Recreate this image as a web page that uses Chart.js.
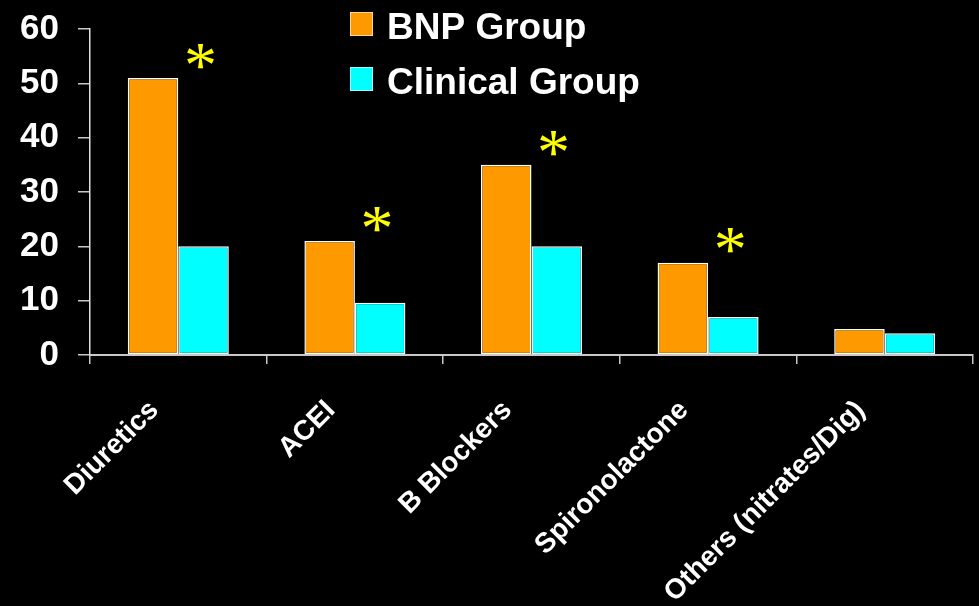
<!DOCTYPE html>
<html>
<head>
<meta charset="utf-8">
<script src="https://cdn.jsdelivr.net/npm/chart.js@4.4.1/dist/chart.umd.min.js"></script>
<style>
  html, body { margin: 0; padding: 0; background: #000; overflow: hidden; }
  canvas { display: block; }
</style>
</head>
<body>
<canvas id="c" width="979" height="606"></canvas>
<script>
// ---- data ----
const categories = ['Diuretics', 'ACEI', 'B Blockers', 'Spironolactone', 'Others (nitrates/Dig)'];
const bnpGroup = [51, 21, 35, 17, 4.8];
const clinicalGroup = [20, 9.6, 20, 7, 4];
const significant = [true, true, true, true, false];
const seriesLabels = ['BNP Group', 'Clinical Group'];
const yMin = 0, yMax = 60, yStep = 10;

const FONT = "'Liberation Sans', Arial, Helvetica, sans-serif";

const legendPlugin = {
  id: 'customLegend',
  afterDraw(chart) {
    const ctx = chart.ctx;
    ctx.save();
    ctx.font = 'bold 37px ' + FONT;
    ctx.textBaseline = 'alphabetic';
    ctx.textAlign = 'left';
    chart.data.datasets.forEach((ds, i) => {
      const top = 12 + i * 55;
      ctx.fillStyle = ds.backgroundColor;
      ctx.fillRect(350, top, 23, 24);
      ctx.strokeStyle = 'rgba(255,255,255,0.6)';
      ctx.lineWidth = 1;
      ctx.strokeRect(350.5, top + 0.5, 22, 23);
      ctx.fillStyle = '#ffffff';
      ctx.fillText(ds.label, 387, top + 26.5);
    });
    ctx.restore();
  }
};

const asteriskPlugin = {
  id: 'asterisks',
  afterDatasetsDraw(chart) {
    const ctx = chart.ctx;
    const xs = chart.scales.x, ys = chart.scales.y;
    ctx.save();
    ctx.font = '66px "Liberation Serif", "Times New Roman", serif';
    ctx.fillStyle = '#ffff00';
    ctx.textAlign = 'center';
    ctx.textBaseline = 'alphabetic';
    const m = ctx.measureText('*');
    const asc = m.actualBoundingBoxAscent, desc = m.actualBoundingBoxDescent;
    const catW = xs.width / categories.length;
    significant.forEach((sig, i) => {
      if (!sig) return;
      const x = xs.getPixelForValue(i) + catW * 0.125;
      const y = ys.getPixelForValue(bnpGroup[i] + 4);
      ctx.fillText('*', x, y + (asc - desc) / 2);
    });
    ctx.restore();
  }
};

new Chart(document.getElementById('c'), {
  type: 'bar',
  data: {
    labels: categories,
    datasets: [
      { label: seriesLabels[0], data: bnpGroup, backgroundColor: '#ff9900', borderColor: '#ffffff', borderWidth: 1.5, borderSkipped: false },
      { label: seriesLabels[1], data: clinicalGroup, backgroundColor: '#00ffff', borderColor: '#ffffff', borderWidth: 1.5, borderSkipped: false }
    ]
  },
  options: {
    responsive: false,
    animation: false,
    layout: { autoPadding: false, padding: { top: 29, right: 6, left: 0, bottom: 0 } },
    datasets: { bar: { categoryPercentage: 0.572, barPercentage: 1.0 } },
    plugins: { legend: { display: false }, tooltip: { enabled: false }, title: { display: false } },
    scales: {
      x: {
        grid: { drawOnChartArea: false, offset: true, color: '#c8c8c8', tickLength: 9, lineWidth: 1.5 },
        border: { color: '#c8c8c8', width: 2 },
        ticks: {
          color: '#ffffff', autoSkip: false, maxRotation: 45, minRotation: 45,
          padding: 30, labelOffset: -24,
          font: { family: FONT, size: 28, weight: 'bold' }
        },
        afterFit(scale) { scale.height = 251; scale.paddingTop = 0; scale.paddingLeft = 0; scale.paddingRight = 0; }
      },
      y: {
        min: yMin, max: yMax,
        grid: { drawOnChartArea: false, color: '#c8c8c8', tickLength: 12, lineWidth: 1.5 },
        border: { color: '#e0e0e0', width: 1.5 },
        ticks: {
          stepSize: yStep, color: '#ffffff', padding: 19,
          font: { family: FONT, size: 35, weight: 'bold' }
        },
        afterFit(scale) { scale.width = 90; scale.paddingTop = 0; scale.paddingBottom = 0; }
      }
    }
  },
  plugins: [legendPlugin, asteriskPlugin]
});
</script>
</body>
</html>
